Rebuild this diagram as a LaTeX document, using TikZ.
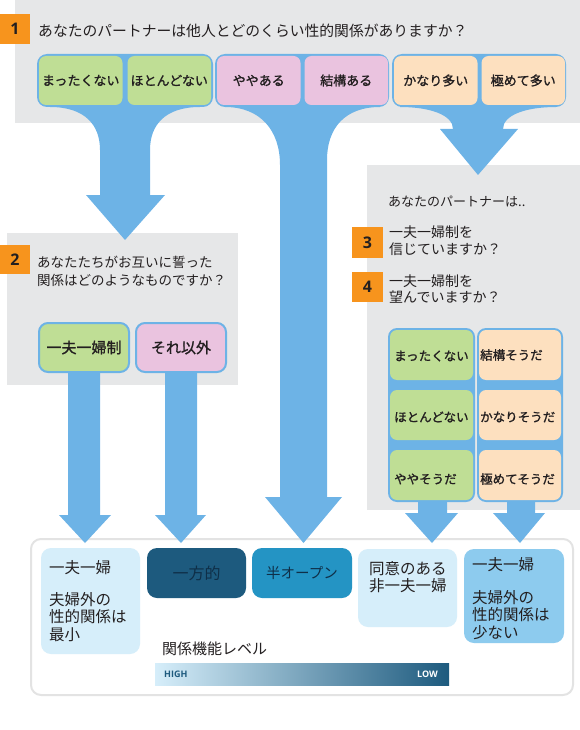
\documentclass[tikz,border=0pt]{standalone}
\usepackage{fontspec}
\newfontfamily\jp{Noto Sans CJK JP}
\newfontfamily\jpm[FakeBold=1.2]{Noto Sans CJK JP}
\newfontfamily\osans{Open Sans}
\definecolor{panel}{HTML}{E6E7E8}
\definecolor{arrowblue}{HTML}{6DB3E6}
\definecolor{grn}{HTML}{BFDE95}
\definecolor{pnk}{HTML}{EAC3DF}
\definecolor{pch}{HTML}{FDE0BF}
\definecolor{orng}{HTML}{F7941D}
\definecolor{txt}{HTML}{231F20}
\definecolor{paleblue}{HTML}{D6EEFA}
\definecolor{navy}{HTML}{1D5A7E}
\definecolor{midblue}{HTML}{2494C4}
\definecolor{skyblue}{HTML}{8DCBEE}
\definecolor{boxline}{HTML}{E3E3E3}
\definecolor{darktxt}{HTML}{0F2F48}
\tikzset{
  btn/.style={rounded corners=7pt, inner sep=0pt, text=txt, font=\jpm\fontsize{13}{15}\selectfont},
  qbtn/.style={draw=arrowblue, line width=2pt, rounded corners=9pt, inner sep=0pt, minimum width=90pt, minimum height=49pt, text=txt, font=\jpm\fontsize{15}{17}\selectfont},
  numbox/.style={fill=orng, inner sep=0pt, text=txt, font=\osans\bfseries\fontsize{16}{18}\selectfont},
  jtext/.style={anchor=west, align=left, inner sep=0pt, text=txt},
  coltext/.style={anchor=west, inner sep=0pt, text=txt, font=\jpm\fontsize{12.5}{14}\selectfont},
  outbox/.style={rounded corners=10pt},
  arrowshape/.style={fill=arrowblue}
}
\begin{document}
\begin{tikzpicture}[x=1pt,y=-1pt]
\useasboundingbox (0,0) rectangle (580,730);
% gray panels
\fill[panel] (15,0) rectangle (580,123);
\fill[panel] (7,233) rectangle (238,385);
\fill[panel] (367,165) rectangle (580,510);
% outline box of outcomes
\draw[boxline, line width=2pt, fill=white, rounded corners=10pt] (31,539) rectangle (573,695);
% arrows
\fill[arrowshape] (50,100) -- (200,100) -- (200,107) .. controls (165,107) and (150,125) .. (150,150) -- (150,195) -- (165,195) -- (125,240) -- (86,195) -- (100,195) -- (100,150) .. controls (100,125) and (85,107) .. (50,107) -- cycle;
\fill[arrowshape] (225,100) -- (380,100) -- (380,107) .. controls (345,107) and (327,128) .. (327,160) -- (327,497) -- (342,497) -- (303.5,543) -- (265,497) -- (280,497) -- (280,165) .. controls (280,130) and (260,107) .. (225,107) -- cycle;
\fill[arrowshape] (400,100) -- (556,100) -- (556,107) .. controls (526,107) and (503,115) .. (503,129) -- (518,129) -- (478,175) -- (440,129) -- (453,129) .. controls (453,115) and (430,107) .. (400,107) -- cycle;
\fill[arrowshape] (68,370) -- (100,370) -- (100,515) -- (111,515) -- (85,543) -- (59,515) -- (68,515) -- cycle;
\fill[arrowshape] (165,370) -- (197,370) -- (197,515) -- (206,515) -- (181,543) -- (155,515) -- (165,515) -- cycle;
\fill[arrowshape] (418,500) -- (447,500) -- (447,513) -- (458,513) -- (432,543) -- (405,513) -- (418,513) -- cycle;
\fill[arrowshape] (507,500) -- (535,500) -- (535,513) -- (545,513) -- (520,543) -- (493,513) -- (507,513) -- cycle;
% Q1
\node[numbox, minimum width=30pt, minimum height=30pt] (n1) at (15,29) {1};
\node[jtext, font=\jp\fontsize{14.8}{17}\selectfont] (q1) at (38,31) {あなたのパートナーは他人とどのくらい性的関係がありますか？};
\fill[arrowblue, rounded corners=10pt] (37,54) rectangle (213,107);
\fill[arrowblue, rounded corners=10pt] (215,54) rectangle (389,107);
\fill[arrowblue, rounded corners=10pt] (392,54) rectangle (566,107);
\node[btn, fill=grn, minimum width=83.5pt, minimum height=49pt] (a1) at (80.75,80.5) {まったくない};
\node[btn, fill=grn, minimum width=83.5pt, minimum height=49pt] (a2) at (169.25,80.5) {ほとんどない};
\node[btn, fill=pnk, minimum width=83.5pt, minimum height=49pt] (a3) at (258.75,80.5) {ややある};
\node[btn, fill=pnk, minimum width=83.5pt, minimum height=49pt] (a4) at (346.25,80.5) {結構ある};
\node[btn, fill=pch, minimum width=83.5pt, minimum height=49pt] (a5) at (435.75,80.5) {かなり多い};
\node[btn, fill=pch, minimum width=83.5pt, minimum height=49pt] (a6) at (523.25,80.5) {極めて多い};
% Q2
\node[numbox, minimum width=30pt, minimum height=29pt] (n2) at (15,259.5) {2};
\node[jtext, font=\jp\fontsize{13.5}{18}\selectfont] (q2) at (37,271) {あなたたちがお互いに誓った\\関係はどのようなものですか？};
\node[qbtn, fill=grn] (b1) at (84,347.5) {一夫一婦制};
\node[qbtn, fill=pnk] (b2) at (181,347.5) {それ以外};
% Q3 / Q4
\node[jtext, font=\jp\fontsize{13}{15}\selectfont] (q0) at (388,202) {あなたのパートナーは..};
\node[numbox, minimum width=31pt, minimum height=31pt] (n3) at (367.5,242.5) {3};
\node[jtext, font=\jp\fontsize{14}{17}\selectfont] (q3) at (389,241) {一夫一婦制を\\信じていますか？};
\node[numbox, minimum width=31pt, minimum height=30pt] (n4) at (367.5,287) {4};
\node[jtext, font=\jp\fontsize{14}{16}\selectfont] (q4) at (389,289.5) {一夫一婦制を\\望んでいますか？};
\fill[arrowblue, rounded corners=9pt] (388,328) rectangle (475,502);
\fill[arrowblue, rounded corners=9pt] (477,328) rectangle (563,502);
\node[btn, fill=grn, minimum width=83pt, minimum height=50pt] (c1) at (431.5,355) {};
\node[btn, fill=grn, minimum width=83pt, minimum height=50pt] (c2) at (431.5,415) {};
\node[btn, fill=grn, minimum width=83pt, minimum height=50pt] (c3) at (431.5,475) {};
\node[btn, fill=pch, minimum width=82pt, minimum height=50pt] (d1) at (520,355) {};
\node[btn, fill=pch, minimum width=82pt, minimum height=50pt] (d2) at (520,415) {};
\node[btn, fill=pch, minimum width=82pt, minimum height=50pt] (d3) at (520,475) {};
\node[coltext] (c1t) at (394,356) {まったくない};
\node[coltext] (c2t) at (394,417) {ほとんどない};
\node[coltext] (c3t) at (394,479) {ややそうだ};
\node[coltext] (d1t) at (480,355) {結構そうだ};
\node[coltext] (d2t) at (480,417) {かなりそうだ};
\node[coltext] (d3t) at (480,479) {極めてそうだ};
% outcomes
\fill[paleblue, outbox] (41,548) rectangle (140,654);
\node[jtext, font=\jp\fontsize{15.5}{17.5}\selectfont] (o1a) at (49,568) {一夫一婦};
\node[jtext, font=\jp\fontsize{15.5}{17.5}\selectfont] (o1b) at (49,617) {夫婦外の\\性的関係は\\最小};
\node[outbox, fill=navy, minimum width=99pt, minimum height=50pt, inner sep=0pt, text=darktxt, font=\jp\fontsize{16}{18}\selectfont] (o2) at (196.5,573) {一方的};
\node[outbox, fill=midblue, minimum width=100pt, minimum height=50pt, inner sep=0pt, text=darktxt, font=\jp\fontsize{14.5}{17}\selectfont] (o3) at (302,573) {半オープン};
\fill[paleblue, outbox] (358,549) rectangle (457,627);
\node[jtext, font=\jp\fontsize{15.5}{17.5}\selectfont] (o4) at (369,577) {同意のある\\非一夫一婦};
\fill[skyblue, outbox] (464,549) rectangle (564,643);
\node[jtext, font=\jp\fontsize{15.5}{17.5}\selectfont] (o5a) at (472,565) {一夫一婦};
\node[jtext, font=\jp\fontsize{15.5}{17.5}\selectfont] (o5b) at (472,615) {夫婦外の\\性的関係は\\少ない};
% level bar
\node[jtext, font=\jp\fontsize{15}{17}\selectfont] (lvl) at (162,649) {関係機能レベル};
\shade[left color=paleblue, right color=navy] (155,663) rectangle (449,685);
\node[anchor=west, inner sep=0pt, text=navy, font=\osans\bfseries\fontsize{9}{10}\selectfont] (hi) at (164,674) {HIGH};
\node[anchor=east, inner sep=0pt, text=white, font=\osans\bfseries\fontsize{9}{10}\selectfont] (lo) at (438,674) {LOW};
\end{tikzpicture}
\end{document}
